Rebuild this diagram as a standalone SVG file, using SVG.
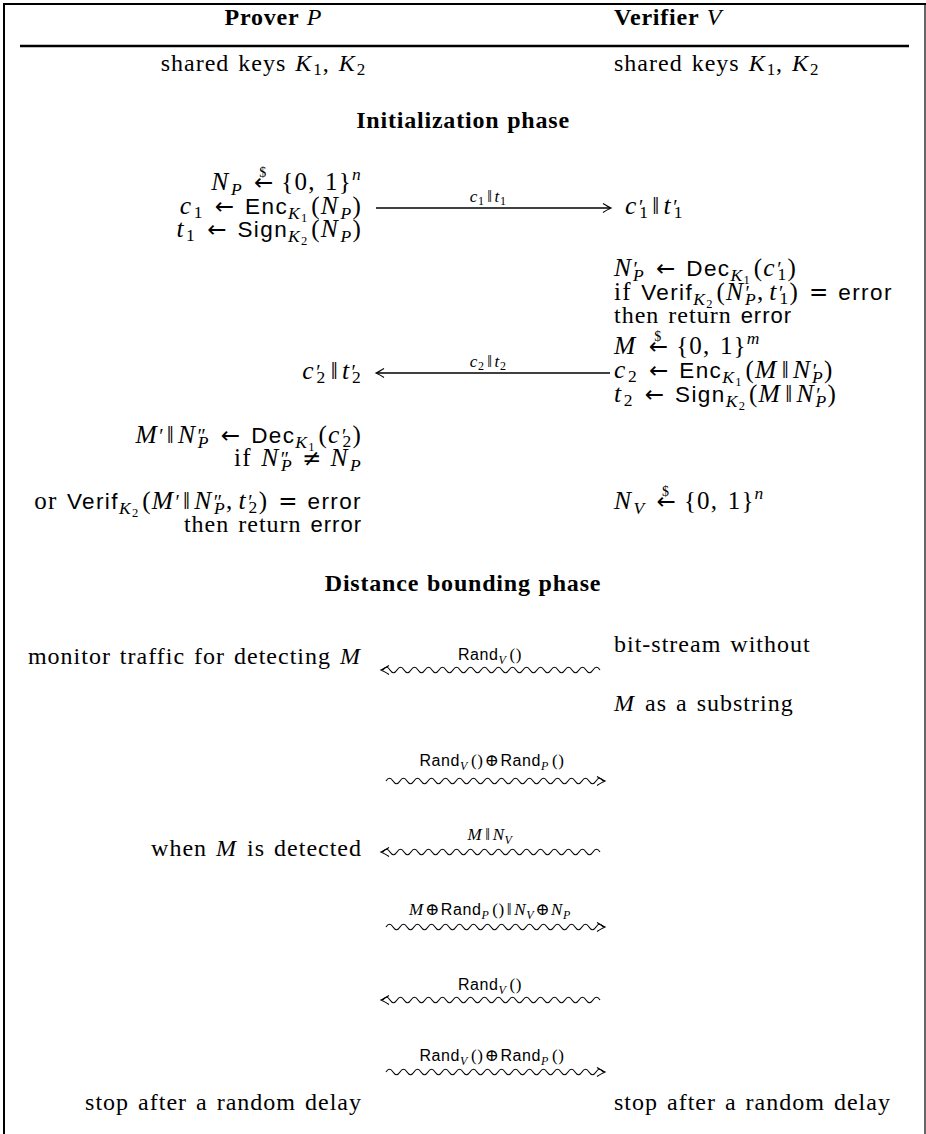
<svg xmlns="http://www.w3.org/2000/svg" xmlns:xlink="http://www.w3.org/1999/xlink" width="926" height="1134" viewBox="0 0 926 1134">
<style>
text { font-family: "Liberation Serif", "DejaVu Serif", serif; font-size: 24px; letter-spacing: 1px; word-spacing: 2px; fill: #000; }
.hd { font-size: 24px; letter-spacing: 0.8px; word-spacing: 1px; }
.i { font-style: italic; letter-spacing: 2px; }
.b { font-weight: bold; }
.s { font-family: "Liberation Sans", "DejaVu Sans", sans-serif; font-size: 22px; letter-spacing: 1px; font-style: normal; }
.ar { font-family: "DejaVu Sans", sans-serif; font-size: 22px; letter-spacing: 0; font-style: normal; }
.sb { font-size: 17px; letter-spacing: 0.8px; }
.ss { font-size: 12px; letter-spacing: 0; font-style: normal; }
.sm { font-size: 14px; letter-spacing: 0; font-style: normal; }
.pr { font-size: 19px; letter-spacing: 0; font-style: normal; }
.m { font-size: 25px; letter-spacing: 1.2px; }
.m .i { font-size: 25.5px; letter-spacing: 2.6px; }
.m .sb { font-size: 17.5px; letter-spacing: 1.3px; }
.m .s { font-size: 22.5px; letter-spacing: 1.4px; }
.m .ar { font-size: 23px; letter-spacing: 0; }
.m .pr { font-size: 20px; letter-spacing: 0; }
.m .ss { font-size: 12.5px; letter-spacing: 0; }
.m .sm { font-size: 14px; letter-spacing: 0; }
.lab { font-size: 17px; letter-spacing: 0.6px; word-spacing: 0; }
.ls { font-family: "Liberation Sans", "DejaVu Sans", sans-serif; font-size: 16px; letter-spacing: 0.6px; font-style: normal; }
.lsb { font-size: 12px; letter-spacing: 0.3px; }
.lab .i { letter-spacing: 0.6px; }
.frame { fill: none; stroke: #000; }
.cn { fill: none; stroke: #000; stroke-width: 1.1; }
.ln { fill: none; stroke: #000; stroke-width: 1.5; }
</style>
<defs>
<path id="wave" d="M0,0 q3.5,-5.5 7,0 t7,0 t7,0 t7,0 t7,0 t7,0 t7,0 t7,0 t7,0 t7,0 t7,0 t7,0 t7,0 t7,0 t7,0 t7,0 t7,0 t7,0 t7,0 t7,0 t7,0 t7,0 t7,0 t7,0 t7,0 t7,0 t7,0 t7,0 t7,0 t7,0 t7,0"/>
<path id="hl" d="M8,-4.5 Q2.5,-1 0,0 Q2.5,1 8,4.5"/>
<path id="hr" d="M-8,-4.5 Q-2.5,-1 0,0 Q-2.5,1 -8,4.5"/>
</defs>
<g id="frame">
<line class="frame" x1="3" y1="4" x2="926" y2="4" stroke-width="2"/>
<line class="frame" x1="4" y1="3" x2="4" y2="1134" stroke-width="2"/>
<line class="frame" x1="925" y1="3" x2="925" y2="1134" stroke-width="1.2"/>
<line class="frame" x1="20" y1="46" x2="909" y2="46" stroke-width="2.4"/>
</g>
<g id="header">
<text class="hd" x="274" y="25" text-anchor="middle"><tspan class="b">Prover </tspan><tspan class="i">P</tspan></text>
<text class="hd" x="614" y="25"><tspan class="b">Verifier </tspan><tspan class="i">V</tspan></text>
</g>
<g id="shared-keys">
<text x="366" y="71" text-anchor="end">shared keys <tspan class="i">K</tspan><tspan class="sb" dy="4">1</tspan><tspan dy="-4">, </tspan><tspan class="i">K</tspan><tspan class="sb" dy="4">2</tspan></text>
<text x="614" y="71">shared keys <tspan class="i">K</tspan><tspan class="sb" dy="4">1</tspan><tspan dy="-4">, </tspan><tspan class="i">K</tspan><tspan class="sb" dy="4">2</tspan></text>
</g>
<g id="init-title">
<text class="hd b" x="463" y="128" text-anchor="middle">Initialization phase</text>
</g>
<g id="prover-init">
<text class="m" x="362" y="190" text-anchor="end"><tspan class="i">N</tspan><tspan class="sb i" dy="5">P</tspan><tspan class="ar" dx="11" dy="-5">←</tspan><tspan class="sm" dx="-14" dy="-13">$</tspan><tspan dx="15" dy="13">{0, 1}</tspan><tspan class="sb i" dy="-10">n</tspan></text>
<text class="m" x="362" y="214" text-anchor="end"><tspan class="i">c</tspan><tspan class="sb" dy="4">1</tspan><tspan class="ar" dx="11" dy="-4">←</tspan><tspan class="s" dx="11">Enc</tspan><tspan class="sb i" dy="5">K</tspan><tspan class="ss" dy="3">1</tspan><tspan dy="-8" dx="4">(</tspan><tspan class="i">N</tspan><tspan class="sb i" dy="5">P</tspan><tspan dy="-5">)</tspan></text>
<text class="m" x="362" y="237" text-anchor="end"><tspan class="i">t</tspan><tspan class="sb" dy="4">1</tspan><tspan class="ar" dx="11" dy="-4">←</tspan><tspan class="s" dx="11">Sign</tspan><tspan class="sb i" dy="5">K</tspan><tspan class="ss" dy="3">2</tspan><tspan dy="-8" dx="4">(</tspan><tspan class="i">N</tspan><tspan class="sb i" dy="5">P</tspan><tspan dy="-5">)</tspan></text>
</g>
<g id="verifier-receive1">
<text class="m" x="625" y="214"><tspan class="i">c</tspan><tspan class="pr">′</tspan><tspan class="sb" dx="-4" dy="4">1</tspan><tspan dy="-4" dx="3">‖</tspan><tspan class="i" dx="3">t</tspan><tspan class="pr">′</tspan><tspan class="sb" dx="-4" dy="4">1</tspan></text>
</g>
<g id="verifier-check">
<text class="m" x="614" y="276"><tspan class="i">N</tspan><tspan class="pr">′</tspan><tspan class="sb i" dx="-5" dy="5">P</tspan><tspan class="ar" dx="11" dy="-5">←</tspan><tspan class="s" dx="11">Dec</tspan><tspan class="sb i" dy="5">K</tspan><tspan class="ss" dy="3">1</tspan><tspan dy="-8" dx="4">(</tspan><tspan class="i">c</tspan><tspan class="pr">′</tspan><tspan class="sb" dx="-4" dy="4">1</tspan><tspan dy="-4">)</tspan></text>
<text class="m" x="614" y="300">if <tspan class="s">Verif</tspan><tspan class="sb i" dy="5">K</tspan><tspan class="ss" dy="3">2</tspan><tspan dy="-8" dx="4">(</tspan><tspan class="i">N</tspan><tspan class="pr">′</tspan><tspan class="sb i" dx="-5" dy="5">P</tspan><tspan dy="-5">,</tspan><tspan class="i" dx="5">t</tspan><tspan class="pr">′</tspan><tspan class="sb" dx="-4" dy="4">1</tspan><tspan dy="-4">)</tspan><tspan class="ar" dx="10">=</tspan><tspan class="s" dx="10">error</tspan></text>
<text x="614" y="323">then return <tspan class="s">error</tspan></text>
<text class="m" x="614" y="354"><tspan class="i">M</tspan><tspan class="ar" dx="11">←</tspan><tspan class="sm" dx="-14" dy="-13">$</tspan><tspan dx="15" dy="13">{0, 1}</tspan><tspan class="sb i" dy="-10">m</tspan></text>
<text class="m" x="614" y="378"><tspan class="i">c</tspan><tspan class="sb" dy="4">2</tspan><tspan class="ar" dx="11" dy="-4">←</tspan><tspan class="s" dx="11">Enc</tspan><tspan class="sb i" dy="5">K</tspan><tspan class="ss" dy="3">1</tspan><tspan dy="-8" dx="4">(</tspan><tspan class="i">M</tspan><tspan dx="3">‖</tspan><tspan class="i" dx="3">N</tspan><tspan class="pr">′</tspan><tspan class="sb i" dx="-5" dy="5">P</tspan><tspan dy="-5">)</tspan></text>
<text class="m" x="614" y="402"><tspan class="i">t</tspan><tspan class="sb" dy="4">2</tspan><tspan class="ar" dx="11" dy="-4">←</tspan><tspan class="s" dx="11">Sign</tspan><tspan class="sb i" dy="5">K</tspan><tspan class="ss" dy="3">2</tspan><tspan dy="-8" dx="4">(</tspan><tspan class="i">M</tspan><tspan dx="3">‖</tspan><tspan class="i" dx="3">N</tspan><tspan class="pr">′</tspan><tspan class="sb i" dx="-5" dy="5">P</tspan><tspan dy="-5">)</tspan></text>
</g>
<g id="prover-receive2">
<text class="m" x="362" y="379" text-anchor="end"><tspan class="i">c</tspan><tspan class="pr">′</tspan><tspan class="sb" dx="-4" dy="4">2</tspan><tspan dy="-4" dx="4">‖</tspan><tspan class="i" dx="3">t</tspan><tspan class="pr">′</tspan><tspan class="sb" dx="-4" dy="4">2</tspan></text>
</g>
<g id="prover-check">
<text class="m" x="362" y="443" text-anchor="end"><tspan class="i">M</tspan><tspan class="pr">′</tspan><tspan dx="3">‖</tspan><tspan class="i" dx="3">N</tspan><tspan class="pr">″</tspan><tspan class="sb i" dx="-8" dy="5">P</tspan><tspan class="ar" dx="11" dy="-5">←</tspan><tspan class="s" dx="11">Dec</tspan><tspan class="sb i" dy="5">K</tspan><tspan class="ss" dy="3">1</tspan><tspan dy="-8" dx="4">(</tspan><tspan class="i">c</tspan><tspan class="pr">′</tspan><tspan class="sb" dx="-4" dy="4">2</tspan><tspan dy="-4">)</tspan></text>
<text class="m" x="362" y="466" text-anchor="end">if <tspan class="i">N</tspan><tspan class="pr">″</tspan><tspan class="sb i" dx="-8" dy="5">P</tspan><tspan class="ar" dx="9" dy="-5">≠</tspan><tspan class="i" dx="9">N</tspan><tspan class="sb i" dy="5">P</tspan></text>
<text class="m" x="362" y="509" text-anchor="end">or <tspan class="s">Verif</tspan><tspan class="sb i" dy="5">K</tspan><tspan class="ss" dy="3">2</tspan><tspan dy="-8" dx="4">(</tspan><tspan class="i">M</tspan><tspan class="pr">′</tspan><tspan dx="3">‖</tspan><tspan class="i" dx="3">N</tspan><tspan class="pr">″</tspan><tspan class="sb i" dx="-8" dy="5">P</tspan><tspan dy="-5">,</tspan><tspan class="i" dx="5">t</tspan><tspan class="pr">′</tspan><tspan class="sb" dx="-4" dy="4">2</tspan><tspan dy="-4">)</tspan><tspan class="ar" dx="10">=</tspan><tspan class="s" dx="10">error</tspan></text>
<text x="362" y="532" text-anchor="end">then return <tspan class="s">error</tspan></text>
</g>
<g id="verifier-nonce">
<text class="m" x="614" y="509"><tspan class="i">N</tspan><tspan class="sb i" dy="5">V</tspan><tspan class="ar" dx="11" dy="-5">←</tspan><tspan class="sm" dx="-14" dy="-13">$</tspan><tspan dx="15" dy="13">{0, 1}</tspan><tspan class="sb i" dy="-10">n</tspan></text>
</g>
<g id="db-title">
<text class="hd b" x="463" y="591" text-anchor="middle">Distance bounding phase</text>
</g>
<g id="prover-db">
<text x="362" y="664" text-anchor="end">monitor traffic for detecting <tspan class="i">M</tspan></text>
<text x="362" y="856" text-anchor="end">when <tspan class="i">M</tspan> is detected</text>
<text x="362" y="1110" text-anchor="end">stop after a random delay</text>
</g>
<g id="verifier-db">
<text x="614" y="652">bit-stream without</text>
<text x="614" y="711"><tspan class="i">M</tspan> as a substring</text>
<text x="614" y="1110">stop after a random delay</text>
</g>
<g id="connectors">
<line class="ln" x1="376" y1="208" x2="610" y2="208"/>
<use href="#hr" class="cn" x="611" y="208"/>
<line class="ln" x1="377" y1="373" x2="610" y2="373"/>
<use href="#hl" class="cn" x="376" y="373"/>
<use href="#wave" class="cn" x="383" y="670"/>
<use href="#hl" class="cn" x="381" y="670"/>
<use href="#wave" class="cn" x="386" y="781"/>
<use href="#hr" class="cn" x="605" y="781"/>
<use href="#wave" class="cn" x="383" y="852"/>
<use href="#hl" class="cn" x="381" y="852"/>
<use href="#wave" class="cn" x="386" y="927"/>
<use href="#hr" class="cn" x="605" y="927"/>
<use href="#wave" class="cn" x="383" y="1000"/>
<use href="#hl" class="cn" x="381" y="1000"/>
<use href="#wave" class="cn" x="386" y="1072"/>
<use href="#hr" class="cn" x="605" y="1072"/>
</g>
<g id="connector-labels">
<text x="488" y="202" text-anchor="middle" class="lab"><tspan class="i">c</tspan><tspan class="lsb" dy="3">1</tspan><tspan dy="-3" dx="3">‖</tspan><tspan class="i" dx="2">t</tspan><tspan class="lsb" dy="3">1</tspan></text>
<text x="488" y="367" text-anchor="middle" class="lab"><tspan class="i">c</tspan><tspan class="lsb" dy="3">2</tspan><tspan dy="-3" dx="3">‖</tspan><tspan class="i" dx="2">t</tspan><tspan class="lsb" dy="3">2</tspan></text>
<text x="490" y="660" text-anchor="middle" class="lab"><tspan class="ls">Rand</tspan><tspan class="lsb i" dy="4">V</tspan><tspan dx="3" dy="-4">()</tspan></text>
<text x="492" y="766" text-anchor="middle" class="lab"><tspan class="ls">Rand</tspan><tspan class="lsb i" dy="4">V</tspan><tspan dx="3" dy="-4">()</tspan><tspan dx="1">⊕</tspan><tspan class="ls" dx="1">Rand</tspan><tspan class="lsb i" dy="4">P</tspan><tspan dx="3" dy="-4">()</tspan></text>
<text x="490" y="840" text-anchor="middle" class="lab"><tspan class="i">M</tspan><tspan dx="3">‖</tspan><tspan class="i" dx="2">N</tspan><tspan class="lsb i" dy="4">V</tspan></text>
<text x="490" y="915" text-anchor="middle" class="lab"><tspan class="i">M</tspan><tspan dx="1">⊕</tspan><tspan class="ls" dx="1">Rand</tspan><tspan class="lsb i" dy="4">P</tspan><tspan dx="3" dy="-4">()</tspan><tspan dx="2">‖</tspan><tspan class="i" dx="2">N</tspan><tspan class="lsb i" dy="4">V</tspan><tspan dy="-4" dx="1">⊕</tspan><tspan class="i" dx="1">N</tspan><tspan class="lsb i" dy="4">P</tspan></text>
<text x="490" y="990" text-anchor="middle" class="lab"><tspan class="ls">Rand</tspan><tspan class="lsb i" dy="4">V</tspan><tspan dx="3" dy="-4">()</tspan></text>
<text x="492" y="1061" text-anchor="middle" class="lab"><tspan class="ls">Rand</tspan><tspan class="lsb i" dy="4">V</tspan><tspan dx="3" dy="-4">()</tspan><tspan dx="1">⊕</tspan><tspan class="ls" dx="1">Rand</tspan><tspan class="lsb i" dy="4">P</tspan><tspan dx="3" dy="-4">()</tspan></text>
</g>
</svg>
